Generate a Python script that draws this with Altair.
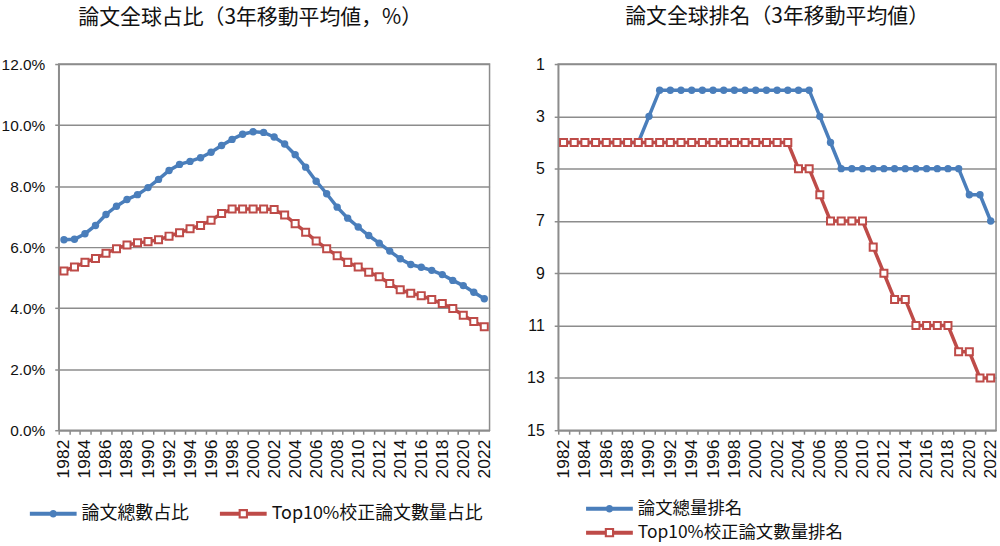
import altair as alt
import pandas as pd

years = list(range(1982, 2023))
share_total = [6.24, 6.26, 6.44, 6.71, 7.07, 7.34, 7.56, 7.72, 7.95, 8.22,
               8.51, 8.71, 8.81, 8.93, 9.11, 9.33, 9.53, 9.70, 9.78, 9.76,
               9.61, 9.38, 9.03, 8.62, 8.16, 7.75, 7.31, 6.95, 6.66, 6.38,
               6.13, 5.87, 5.62, 5.43, 5.34, 5.24, 5.10, 4.91, 4.74, 4.52, 4.31]
share_top10 = [5.22, 5.35, 5.50, 5.63, 5.80, 5.95, 6.07, 6.14, 6.18, 6.24,
               6.36, 6.47, 6.60, 6.71, 6.88, 7.10, 7.25, 7.25, 7.25, 7.25,
               7.23, 7.05, 6.77, 6.49, 6.20, 5.95, 5.72, 5.50, 5.35, 5.18,
               5.03, 4.81, 4.60, 4.49, 4.41, 4.28, 4.15, 3.99, 3.77, 3.56, 3.39]
rank_total = [4, 4, 4, 4, 4, 4, 4, 4, 3, 2,
              2, 2, 2, 2, 2, 2, 2, 2, 2, 2,
              2, 2, 2, 2, 3, 4, 5, 5, 5, 5,
              5, 5, 5, 5, 5, 5, 5, 5, 6, 6, 7]
rank_top10 = [4, 4, 4, 4, 4, 4, 4, 4, 4, 4,
              4, 4, 4, 4, 4, 4, 4, 4, 4, 4,
              4, 4, 5, 5, 6, 7, 7, 7, 7, 8,
              9, 10, 10, 11, 11, 11, 11, 12, 12, 13, 13]

share_ticks = [0, 2, 4, 6, 8, 10, 12]
rank_ticks = [1, 3, 5, 7, 9, 11, 13, 15]

S1 = '論文總數占比'
S2 = 'Top10%校正論文數量占比'
R1 = '論文總量排名'
R2 = 'Top10%校正論文數量排名'
TITLE_L = '論文全球占比（3年移動平均値，%）'
TITLE_R = '論文全球排名（3年移動平均値）'

BLUE = '#4A7EBB'
RED = '#BE4B48'
GRID = '#8c8c8c'
TXT = '#111111'
CJK = 'Noto Sans CJK JP'
LAT = 'Liberation Sans'

BLUE_SYM = ("M-1,-0.085H1V0.085H-1Z "
            "M0.16,0A0.16,0.16 0 1,1 -0.16,0A0.16,0.16 0 1,1 0.16,0Z")
RED_SYM = ("M-1,-0.085H-0.2V0.085H-1Z "
           "M-0.2,-0.2H0.2V0.2H-0.2Z "
           "M-0.11,-0.11V0.11H0.11V-0.11Z "
           "M0.2,-0.085H1V0.085H0.2Z")

PLOT_H = 368
SYM = 47


def legend(sym, color, lx, ly, fs=18):
    return alt.Legend(orient='none', legendX=lx, legendY=ly, title=None, padding=0,
                      symbolType=sym, symbolSize=SYM * SYM, symbolFillColor=color,
                      symbolStrokeWidth=0, symbolOpacity=1,
                      labelFont=CJK, labelFontSize=fs, labelColor=TXT,
                      labelOffset=5, labelLimit=400)


def panel(df_a, df_b, width, y_scale, y_axis, name_a, name_b, leg_a, leg_b, title):
    step = width / len(years)
    x = alt.X('year:O', scale=alt.Scale(type='point', padding=0.5),
              axis=alt.Axis(title=None, labelAngle=270, labelAlign='right', labelBaseline='middle',
                            labelExpr="datum.value % 2 == 0 ? datum.label : ''",
                            labelOverlap=False, labelFont=LAT, labelFontSize=17.5,
                            labelColor=TXT, labelPadding=5, tickSize=4, tickColor=GRID,
                            tickWidth=1.5, domainColor=GRID, domainWidth=1.5, grid=False,
                            tickOffset=-step / 2, labelOffset=step / 2))
    y = alt.Y('value:Q', scale=y_scale, axis=y_axis)
    line_a = alt.Chart(df_a).mark_line(strokeWidth=3.5).encode(
        x=x, y=y,
        color=alt.Color('series:N', scale=alt.Scale(domain=[name_a], range=[BLUE]), legend=leg_a))
    pts_a = alt.Chart(df_a).mark_point(shape='circle', filled=True, size=55, color=BLUE,
                                       opacity=1).encode(x=x, y=y)
    line_b = alt.Chart(df_b).mark_line(strokeWidth=3.5).encode(
        x=x, y=y,
        stroke=alt.Stroke('series:N', scale=alt.Scale(domain=[name_b], range=[RED]), legend=leg_b))
    pts_b = alt.Chart(df_b).mark_point(shape='square', filled=True, fill='white', stroke=RED,
                                       strokeWidth=2, size=50, opacity=1).encode(x=x, y=y)
    return alt.layer(line_a, pts_a, line_b, pts_b).properties(
        width=width, height=PLOT_H, title=title)


df_l1 = pd.DataFrame({'year': years, 'value': share_total, 'series': S1})
df_l2 = pd.DataFrame({'year': years, 'value': share_top10, 'series': S2})
df_r1 = pd.DataFrame({'year': years, 'value': rank_total, 'series': R1})
df_r2 = pd.DataFrame({'year': years, 'value': rank_top10, 'series': R2})

axis_common = dict(title=None, grid=True, gridColor=GRID, gridWidth=1.5, domainColor=GRID,
                   domainWidth=1.5, tickColor=GRID, tickWidth=1.5, tickSize=4, labelPadding=10,
                   labelFont=LAT, labelColor=TXT)

left_axis = alt.Axis(values=share_ticks, labelExpr="format(datum.value, '.1f') + '%'",
                     labelFontSize=15.5, minExtent=57, maxExtent=57, **axis_common)
right_axis = alt.Axis(values=rank_ticks, labelFontSize=16, minExtent=40, maxExtent=40,
                      **axis_common)

left = panel(df_l1, df_l2, 433,
             alt.Scale(domain=[0, 12], nice=False, zero=True), left_axis, S1, S2,
             legend(BLUE_SYM, BLUE, -29, 428.5), legend(RED_SYM, RED, 162, 428.5),
             alt.TitleParams(TITLE_L, font=CJK, fontSize=21, fontWeight='normal', color=TXT,
                             anchor='middle', frame='group', dx=-24, offset=29))
right = panel(df_r1, df_r2, 440,
              alt.Scale(domain=[1, 15], reverse=True, nice=False, zero=False), right_axis, R1, R2,
              legend(BLUE_SYM, BLUE, 28, 423.5, 17.5), legend(RED_SYM, RED, 28, 447.5, 17.5),
              alt.TitleParams(TITLE_R, font=CJK, fontSize=21, fontWeight='normal', color=TXT,
                              anchor='middle', frame='group', offset=29))

chart = alt.hconcat(left, right, spacing=24).resolve_scale(
    color='independent', stroke='independent').resolve_legend(
    color='independent', stroke='independent').properties(
    padding={'left': 0, 'top': 4, 'right': 0, 'bottom': 0},
    background='white').configure_view(stroke=GRID, strokeWidth=1.5)

chart.save("out.html", embed_options={"renderer": "svg", "actions": False})
